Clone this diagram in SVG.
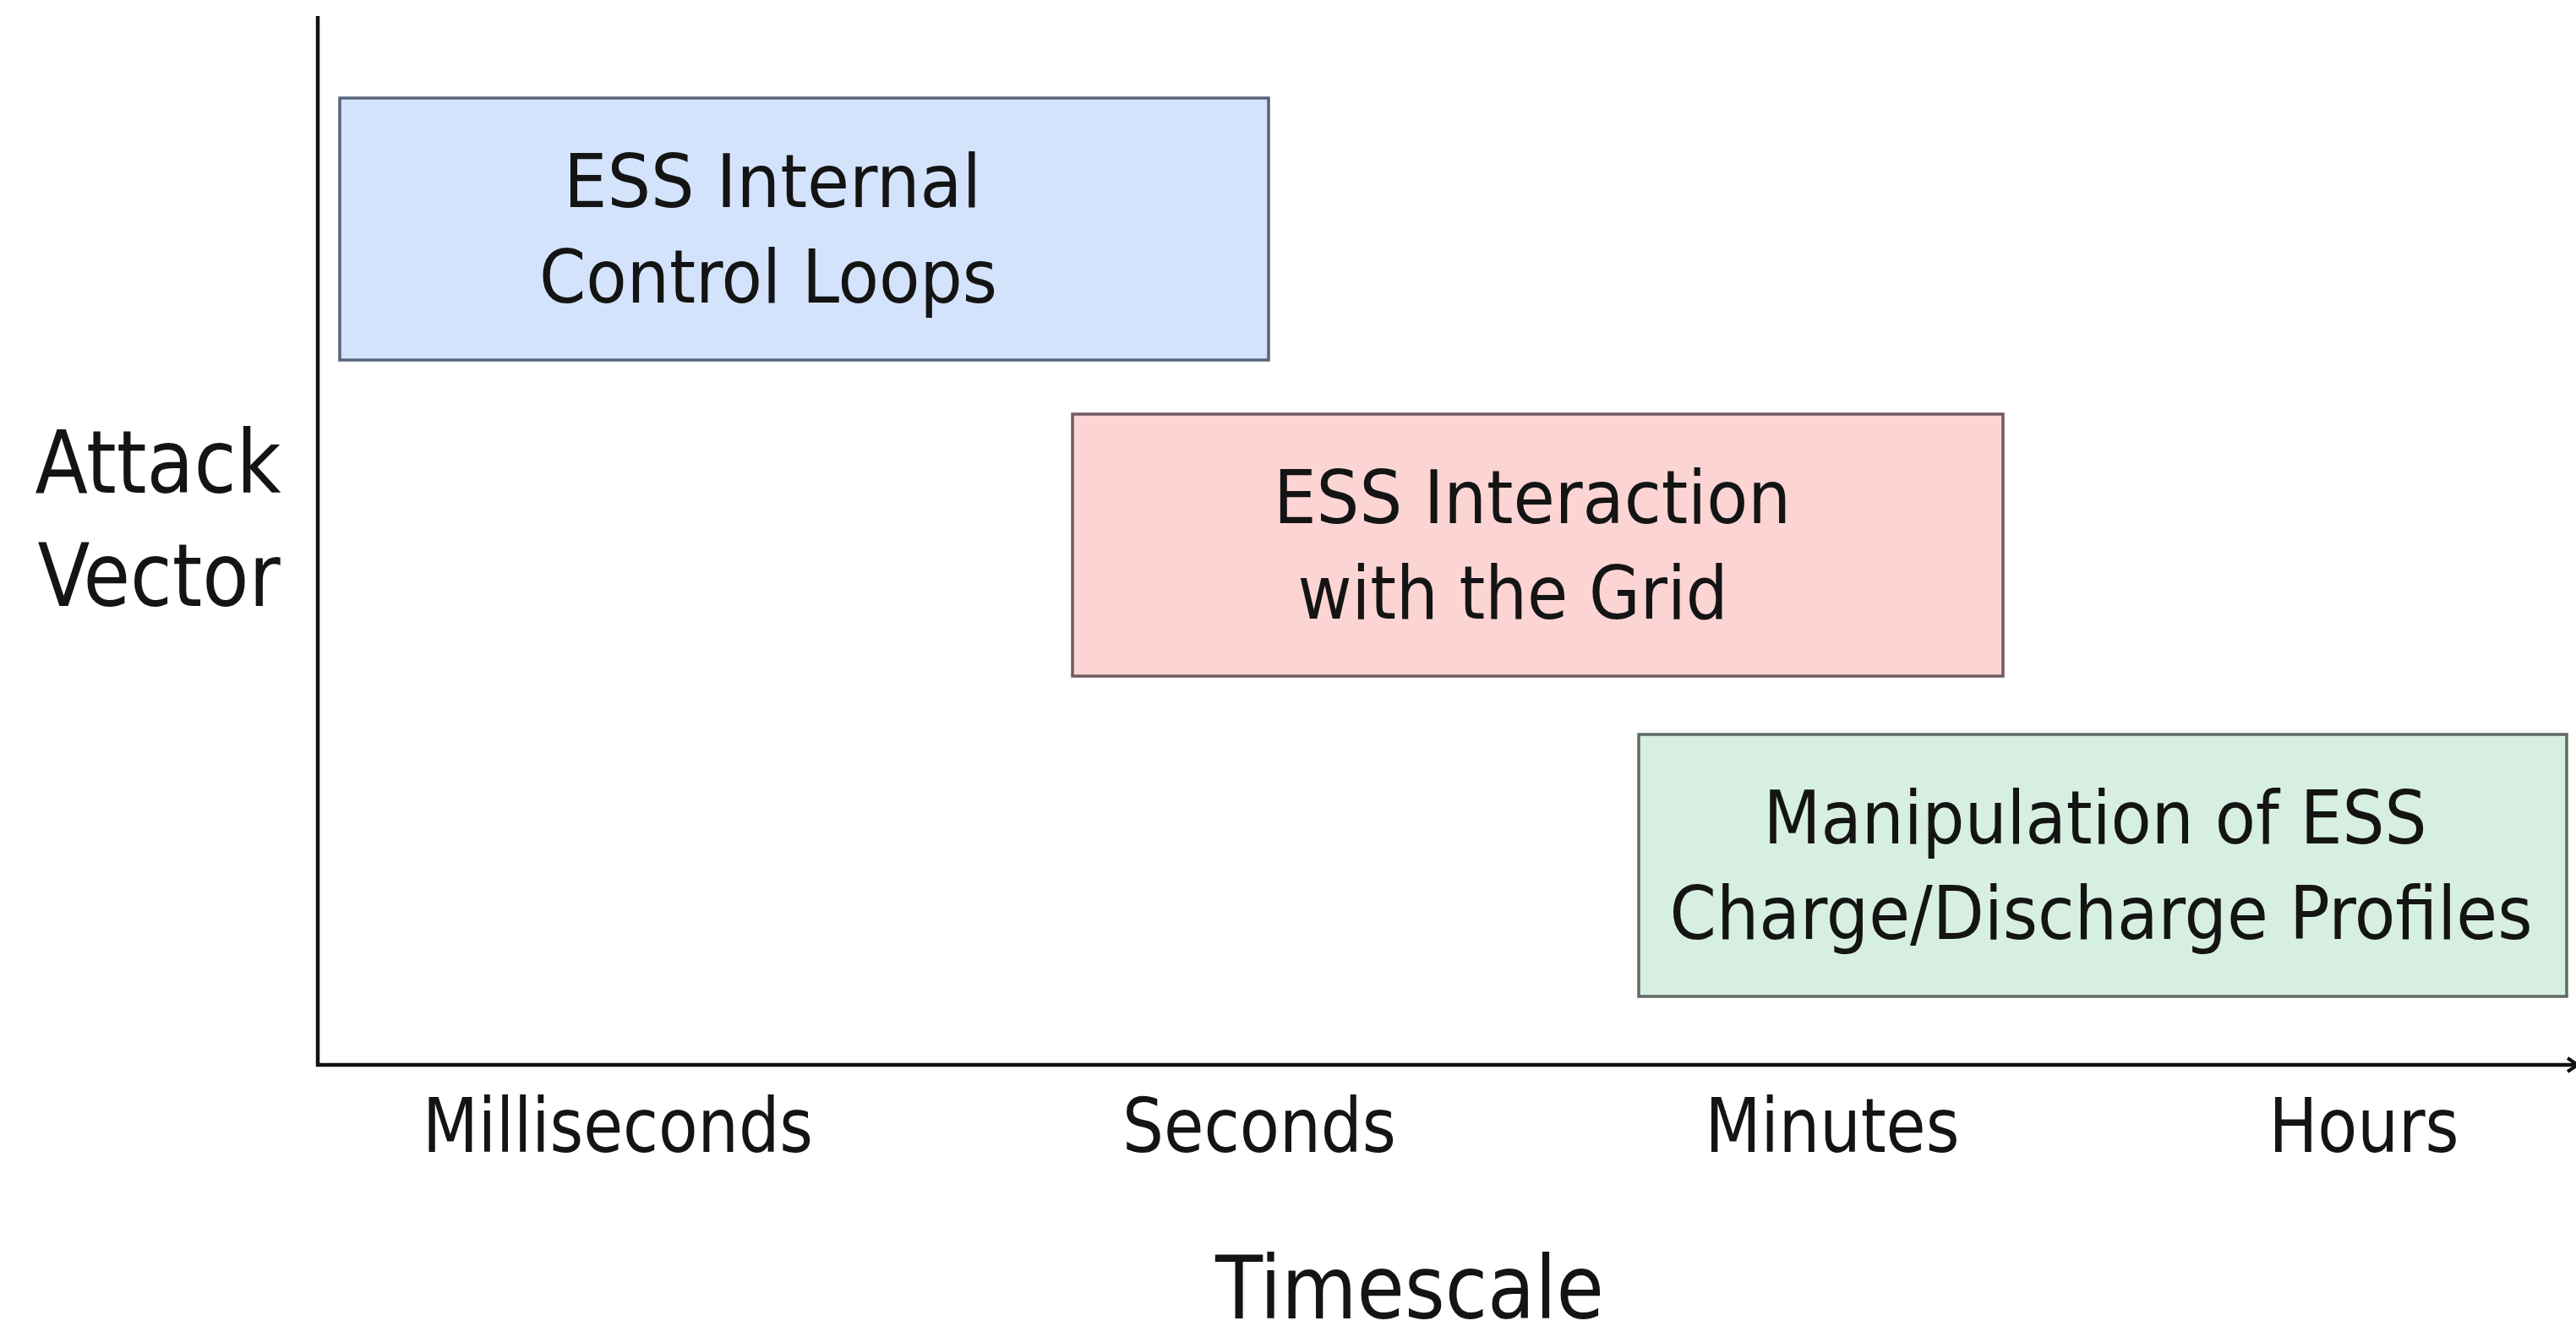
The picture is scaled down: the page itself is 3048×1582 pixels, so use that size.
<svg xmlns="http://www.w3.org/2000/svg" width="3048" height="1582" viewBox="0 0 3048 1582">
<style>
.t{font-family:"DejaVu Sans","Verdana",sans-serif;font-stretch:condensed;fill:#141414;text-anchor:middle}
.box{stroke-width:3.5}
.axis{stroke:#111;stroke-width:4.5;fill:none}
</style>
<defs>
<marker id="arr" markerWidth="20" markerHeight="20" refX="14" refY="10" orient="auto" markerUnits="userSpaceOnUse">
<path d="M2,2 L14,10 L2,18" fill="none" stroke="#111" stroke-width="4"/>
</marker>
</defs>
<rect width="3048" height="1582" fill="#fff"/>
<g id="connectors">
<line class="axis" x1="376" y1="19" x2="376" y2="1262"/>
<line class="axis" x1="374" y1="1260" x2="3050" y2="1260" marker-end="url(#arr)"/>
</g>
<g id="node-internal">
<rect class="box" x="402" y="116" width="1099" height="310" fill="#d4e3fc" stroke="#58647a"/>
<text class="t" font-size="88" x="914" y="245" textLength="494" lengthAdjust="spacingAndGlyphs">ESS Internal</text>
<text class="t" font-size="88" x="909" y="358" textLength="542" lengthAdjust="spacingAndGlyphs">Control Loops</text>
</g>
<g id="node-grid">
<rect class="box" x="1269" y="490" width="1101" height="310" fill="#fcd4d4" stroke="#705c5e"/>
<text class="t" font-size="88" x="1813" y="619" textLength="612" lengthAdjust="spacingAndGlyphs">ESS Interaction</text>
<text class="t" font-size="88" x="1790" y="732" textLength="509" lengthAdjust="spacingAndGlyphs">with the Grid</text>
</g>
<g id="node-profiles">
<rect class="box" x="1939" y="869" width="1098" height="310" fill="#d7efe0" stroke="#5e6b62"/>
<text class="t" font-size="88" x="2479" y="998" textLength="785" lengthAdjust="spacingAndGlyphs">Manipulation of ESS</text>
<text class="t" font-size="88" x="2486" y="1111" textLength="1021" lengthAdjust="spacingAndGlyphs">Charge/Discharge Profiles</text>
</g>
<g id="axis-labels">
<text class="t" font-size="104" x="187" y="583" textLength="291" lengthAdjust="spacingAndGlyphs">Attack</text>
<text class="t" font-size="104" x="188" y="717" textLength="287" lengthAdjust="spacingAndGlyphs">Vector</text>
<text class="t" font-size="89" x="731" y="1363" textLength="462" lengthAdjust="spacingAndGlyphs">Milliseconds</text>
<text class="t" font-size="89" x="1490" y="1363" textLength="324" lengthAdjust="spacingAndGlyphs">Seconds</text>
<text class="t" font-size="89" x="2168" y="1363" textLength="301" lengthAdjust="spacingAndGlyphs">Minutes</text>
<text class="t" font-size="89" x="2797" y="1363" textLength="225" lengthAdjust="spacingAndGlyphs">Hours</text>
<text class="t" font-size="104" x="1668" y="1560" textLength="460" lengthAdjust="spacingAndGlyphs">Timescale</text>
</g>
</svg>
